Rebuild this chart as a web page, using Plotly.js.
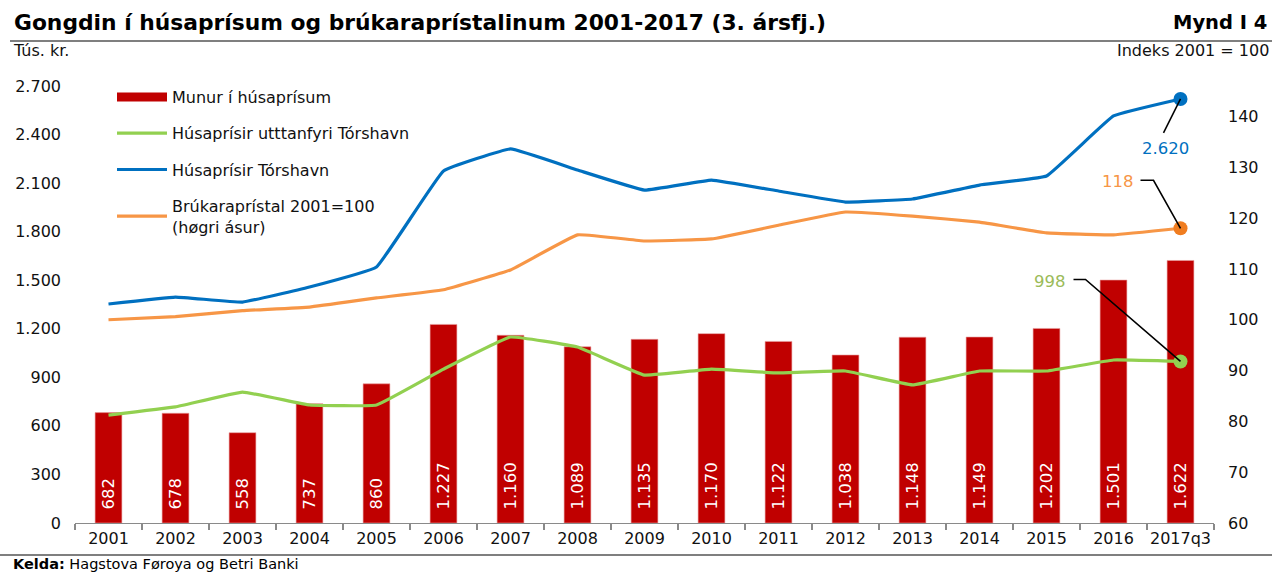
<!DOCTYPE html>
<html>
<head>
<meta charset="utf-8">
<script src="https://cdn.plot.ly/plotly-3.0.1.min.js"></script>
<style>html,body{margin:0;padding:0;background:#fff;}#chart{width:1272px;height:572px;}</style>
</head>
<body>
<div id="chart"></div>
<script>
const categories = ['2001','2002','2003','2004','2005','2006','2007','2008','2009','2010','2011','2012','2013','2014','2015','2016','2017q3'];
const munur = [682, 678, 558, 737, 860, 1227, 1160, 1089, 1135, 1170, 1122, 1038, 1148, 1149, 1202, 1501, 1622];
const utanTorshavn = [667, 717, 809, 729, 729, 951, 1149, 1087, 914, 951, 927, 939, 853, 939, 939, 1007, 998];
const torshavn = [1353, 1396, 1365, 1458, 1582, 2175, 2311, 2181, 2057, 2119, 2051, 1983, 2002, 2088, 2144, 2515, 2620];
const brukarapristal = [100, 100.6, 101.8, 102.5, 104.3, 105.9, 109.8, 116.7, 115.5, 115.9, 118.6, 121.2, 120.4, 119.2, 117.1, 116.7, 118];

const names = ['Munur í húsaprísum', 'Húsaprísir utttanfyri Tórshavn', 'Húsaprísir Tórshavn', 'Brúkaraprístal 2001=100<br>(høgri ásur)'];
const cRed = '#C00000', cGreen = '#92D050', cBlue = '#0070C0', cOrange = '#F79646';
const FONT = 'DejaVu Sans';

function fmt(v) {
  const s = String(Math.round(v));
  return s.replace(/\B(?=(\d{3})+(?!\d))/g, '.');
}
const n = categories.length;
const lastCat = categories[n - 1];
const SM = 0.25;

const traces = [
  {
    type: 'bar', x: categories, y: munur, name: names[0], showlegend: false,
    marker: {color: cRed, line: {color: '#e8a0a0', width: 0.6}}, width: 0.4,
    text: munur.map(v => '\u00a0\u00a0' + fmt(v)), textposition: 'inside', insidetextanchor: 'start',
    textangle: -90, constraintext: 'none', textfont: {color: '#fff', size: 16.5, family: FONT},
    hoverinfo: 'skip'
  },
  {
    type: 'scatter', mode: 'lines', x: [categories[0]], y: [null], name: names[0], legendgroup: 'a', legendrank: 1,
    line: {color: cRed, width: 9}, hoverinfo: 'skip'
  },
  {
    type: 'scatter', mode: 'lines', x: categories, y: utanTorshavn, name: names[1], legendgroup: 'b', legendrank: 2,
    line: {color: cGreen, width: 3.2, shape: 'spline', smoothing: SM}, hoverinfo: 'skip'
  },
  {
    type: 'scatter', mode: 'lines', x: categories, y: torshavn, name: names[2], legendgroup: 'c', legendrank: 3,
    line: {color: cBlue, width: 3.2, shape: 'spline', smoothing: SM}, hoverinfo: 'skip'
  },
  {
    type: 'scatter', mode: 'lines', x: categories, y: brukarapristal, name: names[3], yaxis: 'y2', legendgroup: 'd', legendrank: 4,
    line: {color: cOrange, width: 3.2, shape: 'spline', smoothing: SM}, hoverinfo: 'skip'
  },
  {
    type: 'scatter', mode: 'markers', x: [lastCat], y: [utanTorshavn[n-1]], showlegend: false,
    marker: {size: 14, color: cGreen}, hoverinfo: 'skip'
  },
  {
    type: 'scatter', mode: 'markers', x: [lastCat], y: [torshavn[n-1]], showlegend: false,
    marker: {size: 14, color: cBlue}, hoverinfo: 'skip'
  },
  {
    type: 'scatter', mode: 'markers', x: [lastCat], y: [brukarapristal[n-1]], yaxis: 'y2', showlegend: false,
    marker: {size: 14, color: '#F07D20'}, hoverinfo: 'skip'
  }
];

const L = 75, R = 58, T = 86, B = 49, W = 1272, H = 572;
const pw = W - L - R, ph = H - T - B;
const px = x => (x - L) / pw;
const py = y => (H - B - y) / ph;

const layout = {
  width: W, height: H,
  margin: {l: L, r: R, t: T, b: B, pad: 0},
  paper_bgcolor: '#fff', plot_bgcolor: '#fff',
  font: {family: FONT, size: 16, color: '#111'},
  separators: ',.',
  showlegend: true,
  legend: {
    x: px(112), y: py(80), xanchor: 'left', yanchor: 'top',
    bgcolor: 'rgba(0,0,0,0)', font: {size: 16, family: FONT, color: '#111'},
    tracegroupgap: 12.5, traceorder: 'grouped', itemwidth: 50
  },
  xaxis: {
    type: 'category', range: [-0.5, n - 0.5], autorange: false, showgrid: false, zeroline: false,
    showline: true, linecolor: '#8a8a8a', linewidth: 1.3, tickangle: 0,
    ticks: 'outside', tickson: 'boundaries', ticklen: 6, tickcolor: '#8a8a8a', tickwidth: 1.3,
    tickfont: {size: 16, family: FONT, color: '#111'}, fixedrange: true
  },
  yaxis: {
    range: [0, 2700], autorange: false, dtick: 300, tick0: 0, tickformat: ',d',
    showgrid: false, zeroline: false, showline: false, ticks: '',
    ticklabelstandoff: 13, tickfont: {size: 16, family: FONT, color: '#111'}, fixedrange: true
  },
  yaxis2: {
    overlaying: 'y', side: 'right', range: [60, 146], autorange: false, dtick: 10, tick0: 60,
    showgrid: false, zeroline: false, showline: false, ticks: '',
    ticklabelstandoff: 13, tickfont: {size: 16, family: FONT, color: '#111'}, fixedrange: true
  },
  shapes: [
    {type: 'line', xref: 'paper', yref: 'paper', x0: px(10), x1: px(1272), y0: py(41), y1: py(41), line: {color: '#555', width: 1.5}},
    {type: 'line', xref: 'paper', yref: 'paper', x0: px(0), x1: px(1272), y0: py(555), y1: py(555), line: {color: '#555', width: 1.5}},
    {type: 'path', xref: 'x', yref: 'y', xsizemode: 'pixel', ysizemode: 'pixel', xanchor: lastCat, yanchor: torshavn[n-1],
     path: 'M0,0 L-17,-34', line: {color: '#000', width: 1.6}},
    {type: 'path', xref: 'x', yref: 'y2', xsizemode: 'pixel', ysizemode: 'pixel', xanchor: lastCat, yanchor: brukarapristal[n-1],
     path: 'M0,0 L-27,48 L-40,48', line: {color: '#000', width: 1.6}},
    {type: 'path', xref: 'x', yref: 'y', xsizemode: 'pixel', ysizemode: 'pixel', xanchor: lastCat, yanchor: utanTorshavn[n-1],
     path: 'M0,0 L-95,82 L-107,82', line: {color: '#000', width: 1.6}}
  ],
  annotations: [
    {xref: 'paper', yref: 'paper', x: px(12), y: py(23), xanchor: 'left', yanchor: 'middle', showarrow: false,
     text: '<b>Gongdin í húsaprísum og brúkaraprístalinum 2001-2017 (3. ársfj.)</b>', font: {size: 21.8, family: FONT, color: '#000'}},
    {xref: 'paper', yref: 'paper', x: px(1269), y: py(23), xanchor: 'right', yanchor: 'middle', showarrow: false,
     text: '<b>Mynd I 4</b>', font: {size: 19.5, family: FONT, color: '#000'}},
    {xref: 'paper', yref: 'paper', x: px(11), y: py(51), xanchor: 'left', yanchor: 'middle', showarrow: false,
     text: 'Tús. kr.', font: {size: 16, family: FONT, color: '#111'}},
    {xref: 'paper', yref: 'paper', x: px(1271), y: py(51), xanchor: 'right', yanchor: 'middle', showarrow: false,
     text: 'Indeks 2001 = 100', font: {size: 16, family: FONT, color: '#111'}},
    {xref: 'paper', yref: 'paper', x: px(11), y: py(564), xanchor: 'left', yanchor: 'middle', showarrow: false,
     text: '<b>Kelda:</b> Hagstova Føroya og Betri Banki', font: {size: 14.5, family: FONT, color: '#000'}},
    {xref: 'x', yref: 'y', x: lastCat, y: torshavn[n-1], xshift: -15, yshift: -50, showarrow: false,
     text: fmt(torshavn[n-1]), font: {size: 16.5, family: FONT, color: cBlue}},
    {xref: 'x', yref: 'y2', x: lastCat, y: brukarapristal[n-1], xshift: -63, yshift: 47, showarrow: false,
     text: fmt(brukarapristal[n-1]), font: {size: 16.5, family: FONT, color: cOrange}},
    {xref: 'x', yref: 'y', x: lastCat, y: utanTorshavn[n-1], xshift: -131, yshift: 80, showarrow: false,
     text: fmt(utanTorshavn[n-1]), font: {size: 16.5, family: FONT, color: '#9BBB59'}}
  ]
};

Plotly.newPlot('chart', traces, layout, {displayModeBar: false, staticPlot: true});
</script>
</body>
</html>
